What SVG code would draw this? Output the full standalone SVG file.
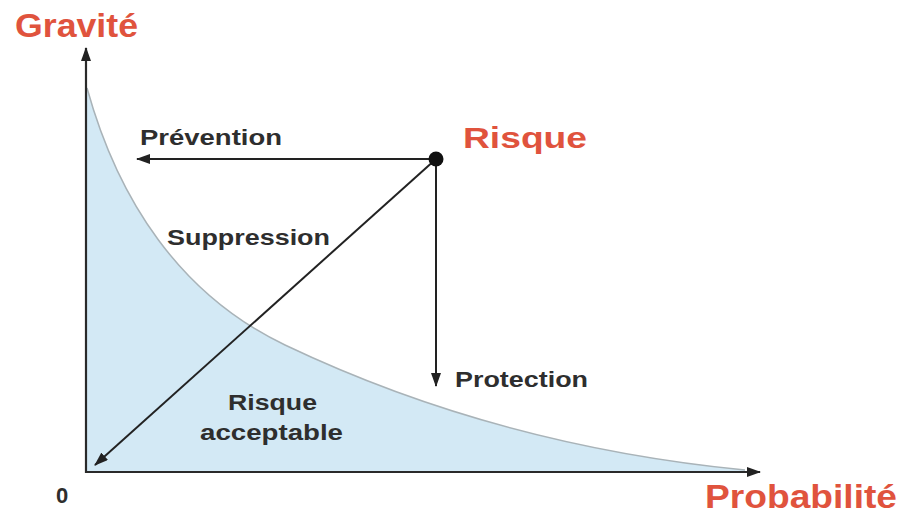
<svg xmlns="http://www.w3.org/2000/svg" width="904" height="519" viewBox="0 0 904 519">
<style>
.ax{stroke:#2a2a2a;stroke-width:2.2;fill:none}
.ar{stroke:#222;stroke-width:2;fill:none}
.red{font-family:"Liberation Sans",Arial,sans-serif;font-weight:bold;fill:#e0533d}
.lbl{font-family:"Liberation Sans",Arial,sans-serif;font-weight:bold;fill:#2e2e2e;font-size:22px}
</style>
<defs>
<marker id="ah" viewBox="0 0 14 10" refX="13" refY="5" markerWidth="14" markerHeight="10" markerUnits="userSpaceOnUse" orient="auto">
<path d="M0,0 L14,5 L0,10 Z" fill="#222"/>
</marker>
</defs>
<rect width="904" height="519" fill="#ffffff"/>
<g id="zone">
<path d="M87,88 C118,200 180,295 285,345 C390,395 540,450 745,470 L745,472 L87,472 Z" fill="#d3e9f5"/>
<path d="M87,88 C118,200 180,295 285,345 C390,395 540,450 745,470" fill="none" stroke="#a9b3b8" stroke-width="1.5"/>
</g>
<g id="axes">
<line class="ax" x1="86" y1="473" x2="86" y2="48" marker-end="url(#ah)"/>
<line class="ax" x1="85" y1="472" x2="760" y2="472" marker-end="url(#ah)"/>
</g>
<g id="connectors">
<line class="ar" x1="436" y1="159" x2="137" y2="159" marker-end="url(#ah)"/>
<line class="ar" x1="436" y1="159" x2="436" y2="386" marker-end="url(#ah)"/>
<line class="ar" x1="436" y1="159" x2="95" y2="465" marker-end="url(#ah)"/>
</g>
<g id="risque">
<circle cx="436" cy="159" r="7.5" fill="#111"/>
<text class="red" x="463" y="148" font-size="29" textLength="124" lengthAdjust="spacingAndGlyphs">Risque</text>
</g>
<g id="labels">
<text class="red" x="15" y="37" font-size="33" textLength="123" lengthAdjust="spacingAndGlyphs">Gravité</text>
<text class="red" x="705" y="508" font-size="33" textLength="192" lengthAdjust="spacingAndGlyphs">Probabilité</text>
<text class="lbl" x="140" y="145" textLength="142" lengthAdjust="spacingAndGlyphs">Prévention</text>
<text class="lbl" x="167" y="245" textLength="163" lengthAdjust="spacingAndGlyphs">Suppression</text>
<text class="lbl" x="455" y="387" textLength="133" lengthAdjust="spacingAndGlyphs">Protection</text>
<text class="lbl" x="228" y="410" textLength="89" lengthAdjust="spacingAndGlyphs">Risque</text>
<text class="lbl" x="200" y="440" textLength="143" lengthAdjust="spacingAndGlyphs">acceptable</text>
<text class="lbl" x="56" y="503" font-size="20">0</text>
</g>
</svg>
